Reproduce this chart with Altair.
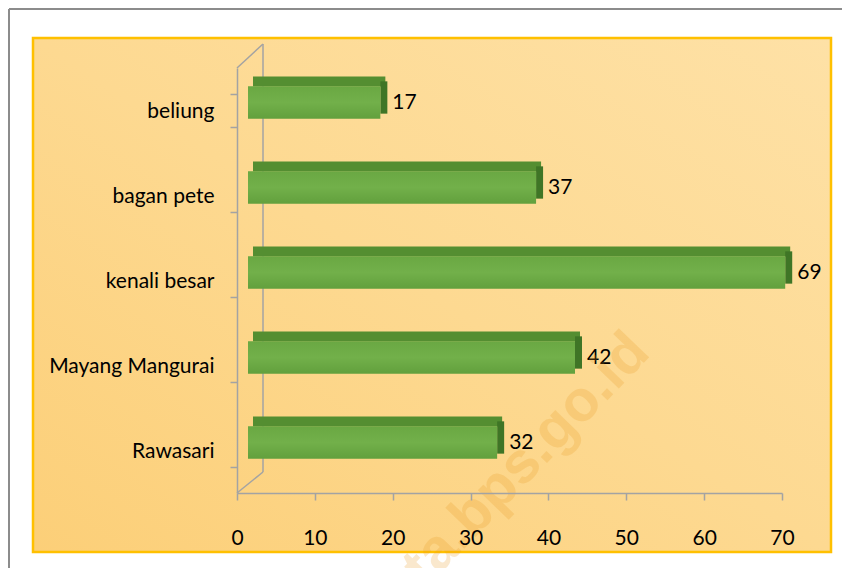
import altair as alt
import pandas as pd

# ---- data ----
categories = ["beliung", "bagan pete", "kenali besar", "Mayang Mangurai", "Rawasari"]
values = [17, 37, 69, 42, 32]
x_ticks = [0, 10, 20, 30, 40, 50, 60, 70]
watermark = ["data.bps.go.id"]

df = pd.DataFrame({"wilayah": categories, "jumlah": values})

W, H = 545, 425
PAD = {"left": 229, "top": 60, "right": 60, "bottom": 75}
FONT = "Lato"
AXIS_GREY = "#A3A3A3"

xscale = alt.Scale(domain=[0, 70], nice=False, zero=True)
yscale = alt.Scale(domain=categories, paddingInner=0.62, paddingOuter=0.31)

x_axis = alt.Axis(values=x_ticks, title=None, grid=False, domainColor=AXIS_GREY,
                  domainWidth=1.5, tickColor=AXIS_GREY, tickWidth=1.5, tickSize=7,
                  labelFont=FONT, labelFontSize=21, labelColor="#000000",
                  labelPadding=27, labelFlush=False, labelOverlap=False, zindex=1)
y_axis = alt.Axis(title=None, grid=False, domainColor=AXIS_GREY, domainWidth=1.5,
                  tickColor=AXIS_GREY, tickWidth=1.5, tickSize=7, tickBand="extent",
                  labelFont=FONT, labelFontSize=21, labelColor="#000000",
                  labelPadding=16, labelOffset=1, zindex=1)

X = alt.X("jumlah:Q", scale=xscale, axis=x_axis, title=None)
Y = alt.Y("wilayah:N", scale=yscale, sort=categories, axis=y_axis, title=None)

one = pd.DataFrame({"k": [0]})

# ---- decoration: outer grey frame and gold panel ----
outer_left = alt.Chart(one).mark_rule(color="#8C8C8C", strokeWidth=2).encode(
    x=alt.value(-228), y=alt.value(-59), y2=alt.value(H + PAD["bottom"]))
outer_top = alt.Chart(one).mark_rule(color="#8C8C8C", strokeWidth=2).encode(
    x=alt.value(-228), x2=alt.value(W + PAD["right"]), y=alt.value(-59))

panel = alt.Chart(one).mark_rect(
    fill=alt.Gradient(gradient="linear", x1=1, y1=0, x2=0, y2=1,
                      stops=[alt.GradientStop(color="#FEE1A6", offset=0),
                             alt.GradientStop(color="#FDD991", offset=0.5),
                             alt.GradientStop(color="#FCCF78", offset=1)]),
    stroke="#FFC000", strokeWidth=2.5,
).encode(x=alt.value(-204), x2=alt.value(594), y=alt.value(-30), y2=alt.value(484))

# ---- 3D wall lines ----
wall_style = dict(color=AXIS_GREY, strokeWidth=1.5)
wall1 = alt.Chart(one).mark_rule(**wall_style).encode(
    x=alt.value(0), y=alt.value(0), x2=alt.value(26), y2=alt.value(-24))
wall2 = alt.Chart(one).mark_rule(**wall_style).encode(
    x=alt.value(26), y=alt.value(-24), y2=alt.value(404))
wall3 = alt.Chart(one).mark_rule(**wall_style).encode(
    x=alt.value(26), y=alt.value(404), x2=alt.value(0), y2=alt.value(425))

base = alt.Chart(df)

# ---- 3D bars ----
top_face = base.mark_bar(color="#548E31", height=10, xOffset=16, x2Offset=14,
                         yOffset=-29).encode(x=X, y=Y)
side_face = base.mark_bar(color="#3F7526", xOffset=18, x2Offset=11,
                          yOffset=-13).encode(x=X, x2=alt.X2("jumlah:Q"), y=Y)
front = base.mark_bar(
    fill=alt.Gradient(gradient="linear", x1=0, y1=0, x2=0, y2=1,
                      stops=[alt.GradientStop(color="#6AA843", offset=0),
                             alt.GradientStop(color="#72B04A", offset=0.5),
                             alt.GradientStop(color="#62A03D", offset=1)]),
    xOffset=11, x2Offset=11, yOffset=-8).encode(x=X, y=Y)

labels = base.mark_text(align="left", baseline="middle", xOffset=23, yOffset=-8,
                        font=FONT, fontSize=21, color="#000000").encode(
    x=X, y=Y, text="jumlah:Q")

wm = alt.Chart(pd.DataFrame({"t": watermark})).mark_text(
    angle=314, font="Liberation Sans", fontWeight="bold", fontSize=58,
    color="#E99A22", opacity=0.22, align="center", baseline="middle",
).encode(x=alt.value(266), y=alt.value(416), text="t:N")

chart = alt.layer(
    outer_left, outer_top, panel, wall1, wall2, wall3,
    top_face, side_face, front, labels, wm
).properties(
    width=W, height=H,
    autosize=alt.AutoSizeParams(type="none"),
    padding=PAD,
).configure_view(stroke=None).configure(background="#FFFFFF")

chart.save("out.html", embed_options={"renderer": "svg", "actions": False})
